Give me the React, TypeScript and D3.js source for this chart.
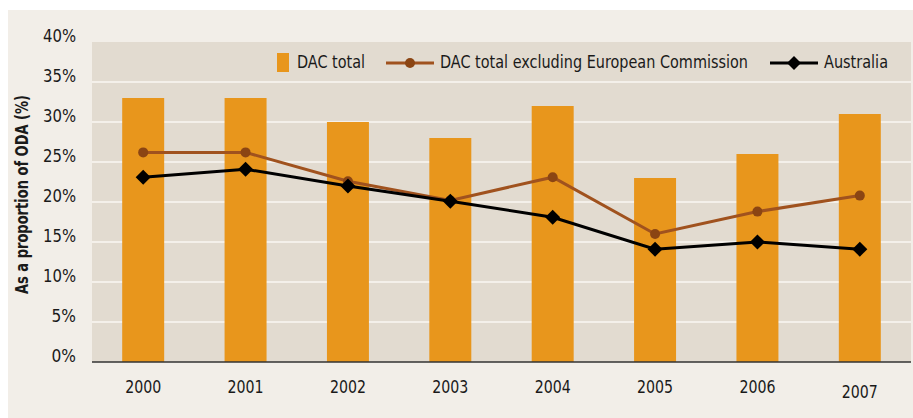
import React from "react";
import * as d3 from "d3";

const years = ["2000", "2001", "2002", "2003", "2004", "2005", "2006", "2007"];
const dacTotal = [33, 33, 30, 28, 32, 23, 26, 31];
const dacExclEC = [26.2, 26.2, 22.6, 20.2, 23.1, 16, 18.8, 20.8];
const australia = [23.1, 24.1, 22, 20.1, 18.1, 14.1, 15, 14.1];
const yTicks = [0, 5, 10, 15, 20, 25, 30, 35, 40];

const W = 913, H = 418;
const plot = { left: 92, right: 911, top: 42, bottom: 362 };
const FONT = "'DejaVu Sans Condensed', 'Liberation Sans Narrow', sans-serif";

export default function App() {
  const x = d3.scaleBand<string>().domain(years).range([plot.left, plot.right]).paddingInner(0.59).paddingOuter(0.295);
  const y = d3.scaleLinear().domain([0, 40]).range([plot.bottom, plot.top]);
  const cx = (yr: string) => (x(yr) as number) + x.bandwidth() / 2;
  const line = d3.line<number>().x((_, i) => cx(years[i])).y((v) => y(v));
  const fit = { lengthAdjust: "spacingAndGlyphs" as const };

  return (
    <svg width={W} height={H} style={{ position: "absolute", left: 0, top: 0 }}>
      <rect x={8} y={10} width={W - 8} height={H - 10} fill="#f2eee8" />
      <rect x={plot.left} y={plot.top} width={plot.right - plot.left} height={plot.bottom - plot.top} fill="#e2dbd0" />
      {yTicks.slice(1, -1).map((t) => (
        <line key={t} x1={plot.left} x2={plot.right} y1={y(t)} y2={y(t)} stroke="#f4f0ea" strokeWidth={2} />
      ))}
      {yTicks.map((t) => (
        <text key={t} x={76} y={y(t) - 5} textAnchor="end" dominantBaseline="middle" fontFamily={FONT} fontSize={18} fill="#1a1a1a"
          textLength={String(t).length * 8.5 + 16} {...fit}>
          {t}%
        </text>
      ))}
      {years.map((yr, i) => (
        <rect key={yr} x={x(yr)} y={y(dacTotal[i])} width={x.bandwidth()} height={plot.bottom - y(dacTotal[i])} fill="#e8961c" />
      ))}
      <line x1={plot.left} x2={plot.right} y1={plot.bottom} y2={plot.bottom} stroke="#333" strokeWidth={1.5} />
      <path d={line(dacExclEC) || ""} fill="none" stroke="#a0521e" strokeWidth={3} />
      {dacExclEC.map((v, i) => (
        <circle key={i} cx={cx(years[i])} cy={y(v)} r={5} fill="#8b4513" />
      ))}
      <path d={line(australia) || ""} fill="none" stroke="#000" strokeWidth={3} />
      {australia.map((v, i) => {
        const px = cx(years[i]), py = y(v), s = 7.5;
        return <path key={i} d={`M${px},${py - s}L${px + s},${py}L${px},${py + s}L${px - s},${py}Z`} fill="#000" />;
      })}
      {years.map((yr, i) => (
        <text key={yr} x={cx(yr)} y={388 + (i === 7 ? 5 : 0)} textAnchor="middle" dominantBaseline="middle" fontFamily={FONT} fontSize={18} fill="#1a1a1a"
          textLength={36} {...fit}>
          {yr}
        </text>
      ))}
      <text transform={`translate(23,194.5) rotate(-90)`} textAnchor="middle" dominantBaseline="middle" fontFamily={FONT} fontSize={18} fontWeight="bold" fill="#1a1a1a"
        textLength={199} {...fit}>
        As a proportion of ODA (%)
      </text>
      {/* legend */}
      <rect x={277} y={53} width={12} height={19} fill="#e8961c" />
      <text x={297} y={63} dominantBaseline="middle" fontFamily={FONT} fontSize={18} fill="#1a1a1a" textLength={68} {...fit}>DAC total</text>
      <line x1={386} x2={434} y1={63} y2={63} stroke="#a0521e" strokeWidth={3} />
      <circle cx={410} cy={63} r={5} fill="#8b4513" />
      <text x={440} y={63} dominantBaseline="middle" fontFamily={FONT} fontSize={18} fill="#1a1a1a" textLength={308} {...fit}>DAC total excluding European Commission</text>
      <line x1={770} x2={818} y1={63} y2={63} stroke="#000" strokeWidth={3} />
      <path d="M794,56L801,63L794,70L787,63Z" fill="#000" />
      <text x={824} y={63} dominantBaseline="middle" fontFamily={FONT} fontSize={18} fill="#1a1a1a" textLength={64} {...fit}>Australia</text>
    </svg>
  );
}
